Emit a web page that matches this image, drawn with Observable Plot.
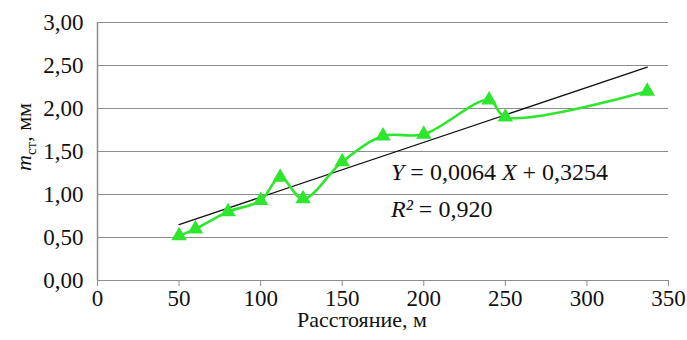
<!DOCTYPE html>
<html>
<head>
<meta charset="utf-8">
<script src="https://cdn.jsdelivr.net/npm/d3@7"></script>
<script src="https://cdn.jsdelivr.net/npm/@observablehq/plot@0.6"></script>
<style>
  html, body { margin: 0; padding: 0; background: #fff; }
  svg text { font-family: 'Liberation Serif', 'Times New Roman', serif !important; }
</style>
</head>
<body>
<div id="chart"></div>
<script>
// Data
const distances = [50, 60, 80, 100, 112, 126, 150, 175, 200, 240, 250, 337];
const values    = [0.52, 0.60, 0.80, 0.93, 1.20, 0.95, 1.38, 1.68, 1.70, 2.10, 1.90, 2.20];
const trendX = [50, 337];
const trendY = [0.65, 2.48];
const xTicks = [0, 50, 100, 150, 200, 250, 300, 350];
const yTicks = [0, 0.5, 1, 1.5, 2, 2.5, 3];
const equationText = ["Y", " = 0,0064 ", "X", " + 0,3254"];
const r2Text = ["R²", " = 0,920"];

const data = distances.map((d, i) => ({x: d, y: values[i]}));
const trend = trendX.map((d, i) => ({x: d, y: trendY[i]}));

const fmt = v => d3.format(".2f")(v).replace(".", ",");
const green = "#2ee62e";
const gray = "#8c8c8c";
const font = "'Liberation Serif', 'Times New Roman', serif";

const chart = Plot.plot({
  width: 687,
  height: 340,
  marginLeft: 97,
  marginRight: 19,
  marginTop: 22,
  marginBottom: 60,
  x: {domain: [0, 350]},
  y: {domain: [0, 3]},
  style: {fontFamily: font, fontSize: "23px", color: "#111", background: "#fff"},
  marks: [
    Plot.gridY(yTicks, {stroke: gray, strokeOpacity: 1, strokeWidth: 1.2}),
    Plot.ruleX([0], {stroke: gray, strokeWidth: 1.5}),
    Plot.axisY(yTicks, {tickSize: 0, tickPadding: 14, tickFormat: fmt, label: null}),
    Plot.axisX(xTicks, {tickSize: 6, tickPadding: 3, stroke: gray, label: null}),
    Plot.text(["Расстояние, м"], {frameAnchor: "bottom", dy: 46, dx: -21, fontSize: 22}),
    Plot.line(trend, {x: "x", y: "y", stroke: "#111", strokeWidth: 1.3}),
    Plot.line(data, {x: "x", y: "y", curve: "catmull-rom", stroke: green, strokeWidth: 2.6}),
    Plot.dot(data, {x: "x", y: "y", symbol: "triangle", fill: green, stroke: green, r: 4.8})
  ]
});

document.getElementById("chart").appendChild(chart);

const svg = d3.select(chart);
const sx = chart.scale("x");

// Y axis title with italic m and subscript
const yt = svg.append("text")
  .attr("transform", "translate(31,137) rotate(-90)")
  .attr("text-anchor", "middle")
  .attr("font-size", 22)
  .attr("fill", "#111");
yt.append("tspan").attr("font-style", "italic").text("m");
yt.append("tspan").attr("font-size", 15).attr("dy", 5).text("ст");
yt.append("tspan").attr("dy", -5).text(", мм");

// Regression equation
const eq = svg.append("text")
  .attr("x", sx.apply(0) + 294)
  .attr("y", 180)
  .attr("text-anchor", "start")
  .attr("font-size", 24)
  .attr("fill", "#111");
equationText.forEach((t, i) => eq.append("tspan").attr("font-style", i % 2 === 0 ? "italic" : "normal").text(t));

const r2 = svg.append("text")
  .attr("x", sx.apply(0) + 294)
  .attr("y", 217)
  .attr("text-anchor", "start")
  .attr("font-size", 24)
  .attr("fill", "#111");
r2Text.forEach((t, i) => r2.append("tspan").attr("font-style", i === 0 ? "italic" : "normal").text(t));
</script>
</body>
</html>
